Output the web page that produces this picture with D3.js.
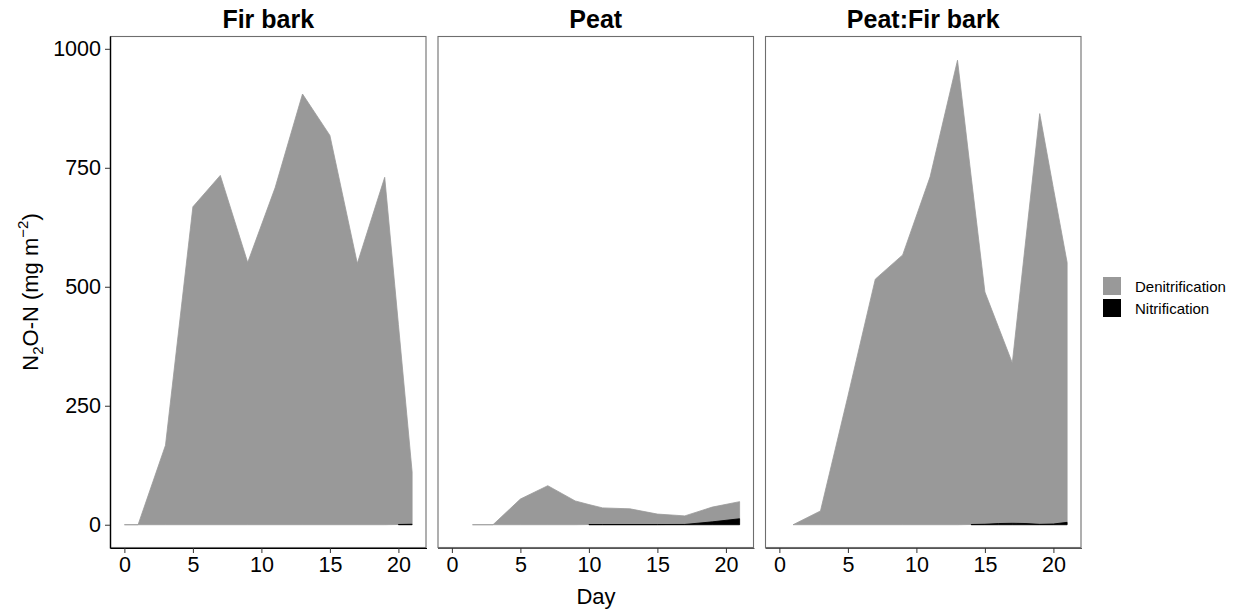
<!DOCTYPE html>
<html>
<head>
<meta charset="utf-8">
<script src="https://cdn.jsdelivr.net/npm/d3@7/dist/d3.min.js"></script>
<style>
  html, body { margin: 0; padding: 0; background: #fff; }
  svg { display: block; font-family: "Liberation Sans", Arial, sans-serif; }
</style>
</head>
<body>
<svg id="chart" width="1249" height="609"></svg>
<script>
// ---- Data ----
const panels = ["Fir bark", "Peat", "Peat:Fir bark"];

const firBarkDays   = [0, 1, 3, 5, 7, 9, 11, 13, 15, 17, 19, 20, 21];
const firBarkDenit  = [0, 0, 167, 668, 734, 551, 708, 905, 818, 549, 730, 420, 110];
const firBarkNitr   = [null, null, null, null, null, null, null, null, null, null, null, 0.5, 1];

const peatDays      = [1.5, 3, 5, 7, 9, 10, 11, 13, 15, 17, 19, 21];
const peatDenit     = [0, 0, 54, 82, 50, 42, 35, 33, 22, 18, 31, 36];
const peatNitr      = [null, null, null, null, null, 0.4, 0.4, 0.4, 0.4, 0.6, 6, 12.5];

const mixDays       = [1, 3, 5, 7, 9, 11, 13, 14, 15, 16, 17, 18, 19, 20, 21];
const mixDenit      = [0, 29, 270, 516, 567, 731, 976, 730, 488, 412, 337, 600, 863, 705, 546];
const mixNitr       = [null, null, null, null, null, null, null, 0.5, 1, 2.5, 3, 2.5, 0.8, 1.5, 5];

const xTicks = [0, 5, 10, 15, 20];
const yTicks = [0, 250, 500, 750, 1000];
const seriesNames = ["Denitrification", "Nitrification"];
const seriesColors = ["#999999", "#000000"];

const panelData = [
  {days: firBarkDays, denit: firBarkDenit, nitr: firBarkNitr},
  {days: peatDays, denit: peatDenit, nitr: peatNitr},
  {days: mixDays, denit: mixDenit, nitr: mixNitr}
];

// ---- Layout ----
const svg = d3.select("#chart");
const panelLefts = [110, 437.5, 765];
const panelWidth = 316.5;
const panelTop = 36, panelBottom = 548;
const tickFont = 21.5;

const y = d3.scaleLinear().domain([-48.9, 1026.9]).range([panelBottom, panelTop]);
const color = d3.scaleOrdinal().domain(seriesNames).range(seriesColors);

panels.forEach((name, i) => {
  const L = panelLefts[i];
  const x = d3.scaleLinear().domain([-1.05, 22.05]).range([L, L + panelWidth]);
  const d = panelData[i];
  const rows = d.days.map((day, k) => ({
    day,
    nitr: d.nitr[k],
    base: d.nitr[k] == null ? 0 : d.nitr[k],
    denit: d.denit[k]
  }));

  const g = svg.append("g");

  // Denitrification stacked on top of nitrification
  const denitArea = d3.area()
    .x(r => x(r.day))
    .y0(r => y(r.base))
    .y1(r => y(r.base + r.denit));
  g.append("path")
    .datum(rows)
    .attr("d", denitArea)
    .attr("fill", color("Denitrification"))
    .attr("stroke", color("Denitrification"))
    .attr("stroke-width", 0.8);

  const nitrArea = d3.area()
    .defined(r => r.nitr != null)
    .x(r => x(r.day))
    .y0(y(0))
    .y1(r => y(r.nitr));
  g.append("path")
    .datum(rows)
    .attr("d", nitrArea)
    .attr("fill", color("Nitrification"))
    .attr("stroke", color("Nitrification"))
    .attr("stroke-width", 0.9);

  // panel border
  g.append("rect")
    .attr("x", L + 0.5).attr("y", panelTop + 0.5)
    .attr("width", panelWidth - 1).attr("height", panelBottom - panelTop - 1)
    .attr("fill", "none").attr("stroke", "#6e6e6e").attr("stroke-width", 1.1);

  // x axis
  const xAxis = d3.axisBottom(x).tickValues(xTicks).tickSizeInner(5).tickSizeOuter(0)
    .tickPadding(4).tickFormat(d3.format("d"));
  const xg = g.append("g").attr("transform", `translate(0,${panelBottom})`).call(xAxis);
  xg.select(".domain").attr("stroke", i === 0 ? "#000" : "#555").attr("stroke-width", 1.2);
  xg.selectAll(".tick line").attr("stroke", "#333").attr("stroke-width", 1);
  xg.selectAll(".tick text").attr("font-size", tickFont).attr("fill", "#000")
    .attr("font-family", "'Liberation Sans', Arial, sans-serif");

  // strip title
  g.append("text")
    .attr("x", L + panelWidth / 2).attr("y", 28)
    .attr("text-anchor", "middle")
    .attr("font-size", 25).attr("font-weight", "bold")
    .text(name);

  if (i === 0) {
    const yAxis = d3.axisLeft(y).tickValues(yTicks).tickSizeInner(5).tickSizeOuter(0)
      .tickPadding(4).tickFormat(d3.format("d"));
    const yg = g.append("g").attr("transform", `translate(${L},0)`).call(yAxis);
    yg.select(".domain").attr("stroke", "#000").attr("stroke-width", 1.4);
    yg.selectAll(".tick line").attr("stroke", "#333").attr("stroke-width", 1);
    yg.selectAll(".tick text").attr("font-size", tickFont).attr("fill", "#000")
      .attr("font-family", "'Liberation Sans', Arial, sans-serif");
  }
});

// y axis title
const yt = svg.append("text")
  .attr("transform", "translate(38,292) rotate(-90)")
  .attr("text-anchor", "middle")
  .attr("font-size", 22);
yt.append("tspan").text("N");
yt.append("tspan").attr("font-size", 15).attr("dy", 5).text("2");
yt.append("tspan").attr("dy", -5).text("O-N (mg m");
yt.append("tspan").attr("font-size", 15).attr("dy", -10).text("\u22122");
yt.append("tspan").attr("dy", 10).text(")");

// x axis title
svg.append("text")
  .attr("x", 596).attr("y", 604)
  .attr("text-anchor", "middle")
  .attr("font-size", 22)
  .text("Day");

// legend
const lg = svg.append("g").attr("transform", "translate(1103,277)");
seriesNames.forEach((s, k) => {
  lg.append("rect").attr("x", 0).attr("y", k * 22).attr("width", 18).attr("height", 18)
    .attr("fill", color(s));
  lg.append("text").attr("x", 32).attr("y", k * 22 + 14.5)
    .attr("font-size", 15).text(s);
});
</script>
</body>
</html>
